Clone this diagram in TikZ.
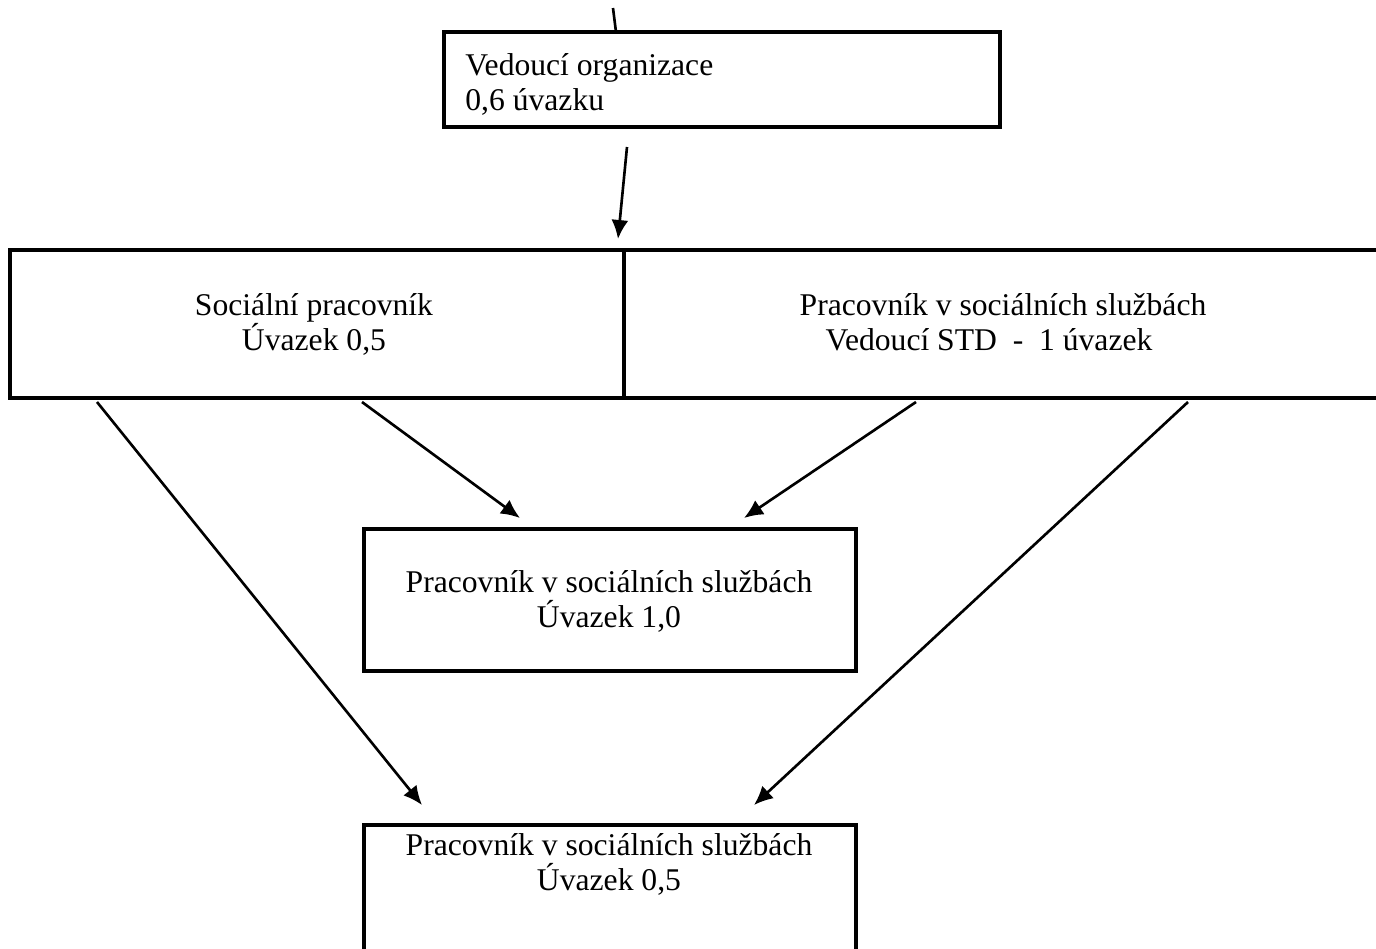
\documentclass[tikz,border=0pt]{standalone}
\usepackage{fontspec}
\setmainfont{Liberation Serif}
\usetikzlibrary{arrows.meta}
\begin{document}
\begin{tikzpicture}[x=0.02cm, y=-0.02cm,
  box/.style={draw, line width=1.8pt, rectangle, inner sep=0pt},
  txt/.style={font=\fontsize{18}{19.8}\selectfont, inner sep=0pt, anchor=base},
  link/.style={line width=1.5pt},
  arr/.style={line width=1.5pt, -{Latex[length=0.38cm, width=0.34cm]}}]
\path[use as bounding box, clip] (0,0) rectangle (1376,948);
% boxes
\node (org)  [box, minimum width=11.12cm, minimum height=1.9cm]  at (722,79.5) {};
\node (soc)  [box, minimum width=12.28cm, minimum height=2.96cm] at (317,324) {};
\node (vstd) [box, minimum width=15.52cm, minimum height=2.96cm] at (1012,324) {};
\node (pss1) [box, minimum width=9.84cm,  minimum height=2.84cm] at (610,600) {};
\node (pss2) [box, minimum width=9.84cm,  minimum height=3.1cm]  at (610,902.5) {};
% texts (anchored at the baseline of the last line)
\node (orgtxt)  [txt, anchor=base west, align=left] at (465,110) {Vedoucí organizace\\0,6 úvazku};
\node (soctxt)  [txt, align=center] at (314,350) {Sociální pracovník\\Úvazek 0,5};
\node (vstdtxt) [txt, align=center] at (1003,350) {Pracovník v sociálních službách\\Vedoucí STD\ \ -\ \ 1 úvazek\hspace*{15.9pt}};
\node (pss1txt) [txt, align=center] at (609,627) {Pracovník v sociálních službách\\Úvazek 1,0};
\node (pss2txt) [txt, align=center] at (609,890) {Pracovník v sociálních službách\\Úvazek 0,5};
% connectors
\coordinate (topa) at (613,8);
\coordinate (topb) at (616,32);
\coordinate (oa) at (627,147);
\coordinate (ob) at (618,239);
\coordinate (sa) at (97,402);
\coordinate (sb) at (362,402);
\coordinate (va) at (916,402);
\coordinate (vb) at (1188,402);
\coordinate (p1l) at (520,518);
\coordinate (p1r) at (744,518);
\coordinate (p2l) at (422,805);
\coordinate (p2r) at (754,805);
\draw[link] (topa) -- (topb);
\draw[arr] (oa) -- (ob);
\draw[arr] (sb) -- (p1l);
\draw[arr] (va) -- (p1r);
\draw[arr] (sa) -- (p2l);
\draw[arr] (vb) -- (p2r);
\end{tikzpicture}
\end{document}
